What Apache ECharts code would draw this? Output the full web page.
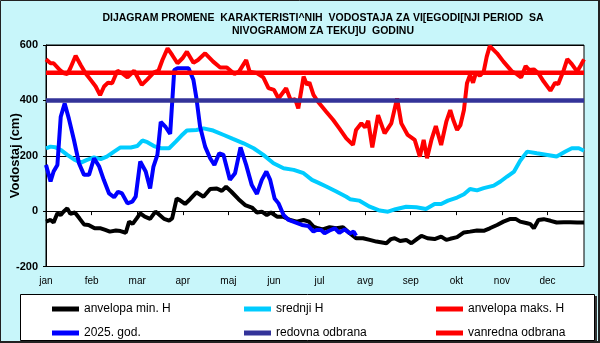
<!DOCTYPE html>
<html>
<head>
<meta charset="utf-8">
<script src="https://cdn.jsdelivr.net/npm/echarts@6/dist/echarts.min.js"></script>
<style>
html,body{margin:0;padding:0;background:#c8f6fa;}
#c{width:600px;height:343px;}
</style>
</head>
<body>
<div id="c"></div>
<script>
// ---- data (day of year, cm) ----
var monthLabels = ['jan','feb','mar','apr','maj','jun','jul','avg','sep','okt','nov','dec'];
var yTicks = [-200, 0, 200, 400, 600];

var minH = [[0,-38],[3,-32],[5,-41],[7.5,-8],[9.7,-14],[11.5,-2],[14,10],[16,-10],[19,-5],[22,-26],[25,-48],[28,-50],[32,-62],[36,-62],[39,-68],[42,-74],[46,-70],[49,-72],[52.5,-78],[54.7,-38],[57,-46],[59.7,-26],[62,-8],[65,-20],[68.5,-28],[72,-2],[74,-10],[77.7,-28],[81,-34],[83,-26],[86,46],[88,40],[91.5,26],[94.8,43],[99,68],[103.6,52],[108,80],[112.4,82],[115.7,73],[118.5,88],[122,70],[126.7,43],[131,22],[135.5,13],[138.8,-5],[142,-2],[145.3,-14],[148,-5],[152,-20],[156,-20],[160.7,-32],[165,-38],[169.5,-32],[173,-38],[176,-56],[179,-62],[182,-66],[186.6,-58],[191,-62],[195.4,-58],[199.8,-80],[204,-98],[208.6,-98],[213,-104],[217.4,-110],[224,-116],[227,-101],[229.4,-98],[233,-108],[237,-104],[240.4,-116],[244,-101],[247,-89],[251,-98],[255.7,-101],[260,-92],[263.4,-104],[266,-100],[270.5,-94],[275,-77],[279,-74],[283.6,-70],[288,-71],[292,-62],[296.8,-50],[301,-38],[305.6,-28],[309,-28],[312,-38],[316.6,-44],[318.8,-47],[321,-62],[324,-32],[327.5,-29],[332,-35],[336,-41],[340.7,-40],[345,-40],[349.5,-41],[354,-41]];

var srednjiH = [[0,227],[3,233],[6,231],[9.7,221],[14,203],[18.4,187],[23,175],[27,185],[31.6,194],[36,188],[40,197],[44.8,215],[49,230],[55.8,230],[60,235],[63.4,255],[66.7,249],[71,235],[75.5,227],[81,227],[85.4,251],[89,272],[92.7,291],[99,293],[103.6,299],[110,291],[117,275],[123,261],[130,245],[136.6,227],[143,203],[149.7,173],[156.3,155],[163,149],[169.5,137],[175,113],[179,103],[184.4,89],[191,71],[197.6,52],[200,43],[206,38],[213,16],[219.6,2],[225,-2],[230,7],[237,16],[243.7,14],[250,8],[255.7,26],[260,26],[264.5,38],[270.5,49],[275,61],[279,80],[283.6,75],[288,83],[294.6,92],[299,107],[303.4,125],[308,143],[312,182],[316.6,215],[323,209],[330,203],[336,197],[341.8,215],[346,227],[350.6,227],[354,218]];

var maksH = [[0,548],[3,534],[5,534],[9,510],[11.8,498],[14,495],[16,516],[19.5,561],[22.8,528],[26,498],[29.4,474],[32.7,450],[35.6,419],[38.2,450],[40.8,464],[43.5,462],[47,507],[50,498],[53.6,483],[58,507],[60,486],[63,456],[66.7,476],[71,501],[74,507],[76.6,546],[80,588],[83,564],[86.5,534],[89.8,552],[92.7,576],[97,536],[100,546],[104.7,570],[110,540],[114.6,519],[119,519],[124,495],[127,504],[131.7,546],[134,504],[139,498],[143,483],[146.4,444],[150,438],[153,407],[158,444],[161,401],[164,404],[166,371],[169.5,486],[171.7,456],[173.3,465],[176,420],[179,395],[184.4,359],[189,329],[193,299],[197.6,263],[202,239],[204,293],[207.5,317],[210,302],[212,326],[214.7,230],[218.5,347],[222.8,281],[227.2,317],[231,407],[233.8,317],[238,275],[242.6,257],[246,197],[248.5,257],[250.7,191],[253.6,257],[256.5,307],[260,239],[263.4,323],[266,365],[268,329],[270.5,293],[272.7,311],[275,365],[277,462],[279,492],[281,464],[283,501],[285.5,489],[288,504],[290,558],[292,596],[296.8,570],[301,540],[306.7,504],[310,494],[312.6,483],[315.6,524],[317.8,510],[321,512],[324,498],[327.5,468],[331.9,435],[335,464],[337,458],[340.7,510],[343,549],[346,531],[349.5,504],[352,528],[354,548]];

var god2025 = [[0,167],[3,107],[5,143],[7.5,167],[9.7,341],[12.3,389],[15,335],[18.4,257],[21.7,173],[25,131],[28.3,131],[31.6,191],[35,161],[38,113],[41.5,64],[44.8,50],[47.4,70],[50,64],[53.6,28],[56.8,34],[59,52],[62,179],[65.6,143],[68.5,82],[70.7,161],[73.3,203],[75.5,322],[78.8,303],[81.7,279],[84.4,510],[86.5,516],[89.8,516],[93.8,516],[97,474],[99,407],[101.4,305],[104.7,233],[108,191],[110.8,167],[114,209],[116.8,203],[121,113],[124.4,137],[128,230],[131.7,167],[135.4,94],[138.8,62],[142,113],[145,143],[147.5,113],[150.4,46],[153,28],[156.3,-14],[159.6,-32],[164,-41],[168.4,-50],[172.7,-54],[176,-74],[178,-68],[181,-68],[183.3,-80],[186.6,-70],[190,-62],[193,-78],[196.5,-66],[199.8,-80],[202.5,-74],[204,-89]];

var redovnaLevel = 400;
var vanrednaLevel = 500;
var dayRange = [0, 354];

var seriesNames = ['anvelopa min. H','srednji H','anvelopa maks. H','2025. god.','redovna odbrana','vanredna odbrana'];
var seriesColors = ['#000000','#00ccff','#ff0000','#0000ff','#333399','#ff0000'];

var FONT = '"Liberation Sans", Arial, sans-serif';
var chart = echarts.init(document.getElementById('c'), null, {renderer:'canvas'});

function lineSeries(i, data, w) {
  return {
    name: seriesNames[i], type: 'line', data: data, showSymbol: false, symbol: 'none',
    smooth: false, animation: false, silent: true,
    lineStyle: {color: seriesColors[i], width: w}, itemStyle: {color: seriesColors[i]}
  };
}

var legendPos = [[52,303],[244,303],[436,303],[52,327],[244,327],[436,327]];
var legends = seriesNames.map(function(n, i){
  return {
    data: [n], left: legendPos[i][0], top: legendPos[i][1], padding: 0,
    icon: 'rect', itemWidth: 27, itemHeight: 5, selectedMode: false,
    textStyle: {fontFamily: FONT, fontSize: 12, color: '#000'}
  };
});

chart.setOption({
  backgroundColor: '#c8f6fa',
  animation: false,
  textStyle: {fontFamily: FONT},
  title: {
    text: 'DIJAGRAM PROMENE  KARAKTERISTI^NIH  VODOSTAJA ZA VI[EGODI[NJI PERIOD  SA\nNIVOGRAMOM ZA TEKU]U  GODINU',
    left: 323, top: 11, padding: 0, textAlign: 'center',
    textStyle: {fontFamily: FONT, fontSize: 10.5, fontWeight: 'bold', color: '#000', lineHeight: 13.5}
  },
  graphic: [
    {type:'rect', shape:{x:22, y:296, width:575, height:47}, style:{fill:'#333'}, z:0},
    {type:'rect', shape:{x:20.5, y:294.5, width:574, height:46}, style:{fill:'#fff', stroke:'#000', lineWidth:1}, z:1},
    {type:'rect', shape:{x:0.5, y:0.5, width:598.5, height:341.5}, style:{fill:'none', stroke:'#222', lineWidth:1}, z:1},
    {type:'line', shape:{x1:599, y1:0, x2:599, y2:343}, style:{stroke:'#222', lineWidth:2}, z:1},
    {type:'line', shape:{x1:0, y1:342, x2:600, y2:342}, style:{stroke:'#222', lineWidth:2}, z:1}
  ],
  legend: legends,
  grid: {left: 46, right: 16, top: 45, bottom: 76.5, containLabel: false, outerBoundsMode: 'none',
         show: true, backgroundColor: '#fff', borderColor: '#000', borderWidth: 1},
  xAxis: {
    type: 'value', min: dayRange[0], max: dayRange[1], interval: 30,
    axisLine: {show: true, lineStyle: {color: '#000', width: 1}},
    axisTick: {show: true, length: 4, lineStyle: {color: '#000'}},
    splitLine: {show: false},
    axisLabel: {
      fontFamily: FONT, fontSize: 10, color: '#000', margin: 10, showMaxLabel: false,
      formatter: function(v){ var k = Math.round(v/30); return (v % 30 === 0 && monthLabels[k]) ? monthLabels[k] : ''; }
    }
  },
  yAxis: {
    type: 'value', min: yTicks[0], max: yTicks[yTicks.length-1], interval: 200,
    name: 'Vodostaj (cm)', nameLocation: 'middle', nameGap: 24, nameRotate: 90, nameMoveOverlap: false,
    nameTextStyle: {fontFamily: FONT, fontSize: 13, fontWeight: 'bold', color: '#000'},
    axisLine: {show: true, lineStyle: {color: '#000', width: 1}},
    axisTick: {show: true, length: 3, lineStyle: {color: '#000'}},
    splitLine: {show: true, lineStyle: {color: '#000', width: 1}},
    axisLabel: {fontFamily: FONT, fontSize: 11, fontWeight: 'bold', color: '#000', margin: 8}
  },
  series: [
    lineSeries(0, minH, 4),
    lineSeries(1, srednjiH, 4),
    lineSeries(2, maksH, 4),
    lineSeries(3, god2025, 4),
    lineSeries(4, [[dayRange[0], redovnaLevel],[dayRange[1], redovnaLevel]], 4.5),
    lineSeries(5, [[dayRange[0], vanrednaLevel],[dayRange[1], vanrednaLevel]], 4.5)
  ]
});
</script>
</body>
</html>
